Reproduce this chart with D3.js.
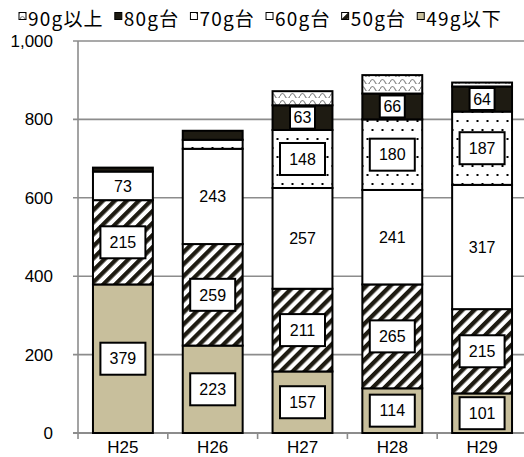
<!DOCTYPE html>
<html>
<head>
<meta charset="utf-8">
<script src="https://cdn.jsdelivr.net/npm/d3@7"></script>
<style>
body { margin: 0; background: #fff; }
svg { display: block; }
.tick-lbl { font-family: "Liberation Sans", Arial, sans-serif; font-size: 17px; fill: #000; }
.legend text { font-family: "Noto Sans CJK JP", sans-serif; font-size: 19px; letter-spacing: 1.2px; fill: #000; }
.lbl text { font-family: "Liberation Sans", Arial, sans-serif; font-size: 16px; fill: #000; }
</style>
</head>
<body>
<svg width="524" height="457"></svg>
<script>

// data
var years = ["H25", "H26", "H27", "H28", "H29"];
var seriesNames = ["49g以下", "50g台", "60g台", "70g台", "80g台", "90g以上"];
var v49 = [379, 223, 157, 114, 101];
var v50 = [215, 259, 211, 265, 215];
var v60 = [73, 243, 257, 241, 317];
var v70 = [0, 23, 148, 180, 187];
var v80 = [10, 23, 63, 66, 64];
var v90 = [0, 0, 36, 47, 10];
var yTicks = [0, 200, 400, 600, 800, 1000];

var seriesVals = [v49, v50, v60, v70, v80, v90];

var svg = d3.select("svg"),
    width = +svg.attr("width"),
    height = +svg.attr("height");

var dark = "#1e1b12";

// patterns
var defs = svg.append("defs");

var wave = defs.append("pattern").attr("id", "wave")
    .attr("patternUnits", "userSpaceOnUse").attr("width", 10).attr("height", 7);
wave.append("rect").attr("width", 10).attr("height", 7).attr("fill", "#fff");
wave.append("path").attr("d", "M0,5 Q2.5,0 5,5 T10,5")
    .attr("fill", "none").attr("stroke", "#8a8a8a").attr("stroke-width", 1.2);

var dots = defs.append("pattern").attr("id", "dots")
    .attr("patternUnits", "userSpaceOnUse").attr("width", 10).attr("height", 18);
dots.append("rect").attr("width", 10).attr("height", 18).attr("fill", "#fff");
dots.append("rect").attr("x", 1.5).attr("y", 3).attr("width", 2).attr("height", 2).attr("fill", "#000");
dots.append("rect").attr("x", 6.5).attr("y", 12).attr("width", 2).attr("height", 2).attr("fill", "#000");

var stripes = defs.append("pattern").attr("id", "stripes")
    .attr("patternUnits", "userSpaceOnUse").attr("width", 8.5).attr("height", 8.5)
    .attr("patternTransform", "rotate(45)");
stripes.append("rect").attr("width", 8.5).attr("height", 8.5).attr("fill", "#fff");
stripes.append("rect").attr("width", 4.3).attr("height", 8.5).attr("fill", dark);

var fills = ["#c8bf9c", "url(#stripes)", "#fff", "url(#dots)", dark, "url(#wave)"];

// scales
var x = d3.scaleBand()
    .domain(years)
    .range([78, 527])
    .paddingInner(0.333)
    .paddingOuter(0.1667);

var y = d3.scaleLinear()
    .domain([0, 1000])
    .range([433, 41]);

// gridlines
svg.append("g")
  .selectAll("line")
  .data(yTicks)
  .enter().append("line")
    .attr("x1", 73).attr("x2", width)
    .attr("y1", function(d) { return y(d); })
    .attr("y2", function(d) { return y(d); })
    .attr("stroke", "#8c8c8c")
    .attr("stroke-width", function(d) { return d === 0 ? 2 : 1.6; });

// y axis line
svg.append("line")
    .attr("x1", 78).attr("x2", 78)
    .attr("y1", y(1000)).attr("y2", y(0))
    .attr("stroke", "#8c8c8c").attr("stroke-width", 1.6);

// x tick marks
var bounds = years.map(function(d) { return x(d) - x.step() * x.paddingInner() / 2; });
svg.append("g")
  .selectAll("line")
  .data(bounds)
  .enter().append("line")
    .attr("x1", function(d) { return d; })
    .attr("x2", function(d) { return d; })
    .attr("y1", y(0)).attr("y2", y(0) + 6)
    .attr("stroke", "#8c8c8c").attr("stroke-width", 1.6);

// y tick labels
svg.append("g")
  .selectAll("text")
  .data(yTicks)
  .enter().append("text")
    .attr("class", "tick-lbl")
    .attr("x", 53)
    .attr("y", function(d) { return y(d); })
    .attr("dy", "0.35em")
    .attr("text-anchor", "end")
    .text(function(d) { return d3.format(",")(d); });

// x labels
svg.append("g")
  .selectAll("text")
  .data(years)
  .enter().append("text")
    .attr("class", "tick-lbl")
    .attr("x", function(d) { return x(d) + x.bandwidth() / 2; })
    .attr("y", 447)
    .attr("dy", "0.35em")
    .attr("text-anchor", "middle")
    .text(function(d) { return d; });

// stacked segments
var segs = [];
years.forEach(function(yr, i) {
  var base = 0;
  seriesVals.forEach(function(vals, s) {
    var v = vals[i];
    segs.push({ year: yr, s: s, v: v, y0: base, y1: base + v });
    base += v;
  });
});

svg.append("g")
  .selectAll("rect")
  .data(segs.filter(function(d) { return d.v > 0; }))
  .enter().append("rect")
    .attr("x", function(d) { return x(d.year); })
    .attr("width", x.bandwidth())
    .attr("y", function(d) { return y(d.y1); })
    .attr("height", function(d) { return y(d.y0) - y(d.y1); })
    .attr("fill", function(d) { return fills[d.s]; })
    .attr("stroke", "#000")
    .attr("stroke-width", 2);

// data labels
var lbls = svg.append("g")
    .attr("class", "lbl")
  .selectAll("g")
  .data(segs.filter(function(d) { return d.s < 5 && d.v >= 50; }))
  .enter().append("g")
    .attr("transform", function(d) {
      return "translate(" + (x(d.year) + x.bandwidth() / 2) + "," + ((y(d.y0) + y(d.y1)) / 2) + ")";
    });

lbls.append("rect")
    .attr("x", function(d) { return d.v >= 100 ? -22.5 : -12.5; })
    .attr("y", function(d) { return d.v >= 100 ? -16 : -11; })
    .attr("width", function(d) { return d.v >= 100 ? 45 : 25; })
    .attr("height", function(d) { return d.v >= 100 ? 32 : 22; })
    .attr("fill", "#fff")
    .attr("stroke", function(d) { return d.s === 2 ? "none" : "#000"; })
    .attr("stroke-width", 2);

lbls.append("text")
    .attr("text-anchor", "middle")
    .attr("dy", "0.36em")
    .text(function(d) { return d.v; });

// legend
var legend = svg.append("g").attr("class", "legend");
var lx = 19;
for (var k = seriesNames.length - 1; k >= 0; k--) {
  legend.append("rect")
      .attr("x", lx).attr("y", 12.5)
      .attr("width", 7).attr("height", 7)
      .attr("fill", fills[k])
      .attr("stroke", "#000").attr("stroke-width", 1);
  var t = legend.append("text")
      .attr("x", lx + 9).attr("y", 25.5)
      .text(seriesNames[k]);
  lx += 9 + t.node().getComputedTextLength() + 11;
}

</script>
</body>
</html>
